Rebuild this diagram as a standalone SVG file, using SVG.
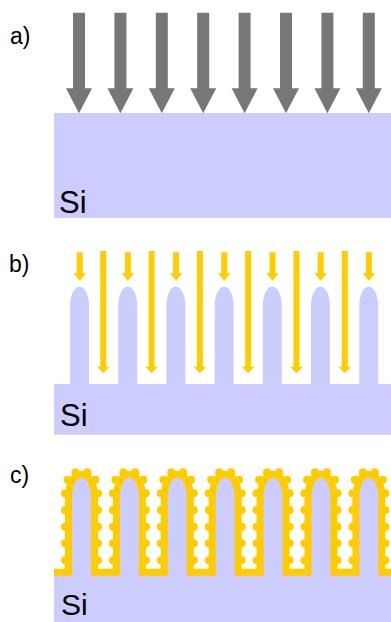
<svg xmlns="http://www.w3.org/2000/svg" xmlns:xlink="http://www.w3.org/1999/xlink" width="391" height="622" viewBox="0 0 391 622">
  <style>
    .si { fill: #CCCCFF; }
    .label { font-family: "Liberation Sans", Arial, sans-serif; font-size: 23px; fill: #000; }
    .mat { font-family: "Liberation Sans", Arial, sans-serif; font-size: 31px; fill: #000; }
    .gray { fill: #777777; }
    .gold { fill: #FFCC00; }
    .coat { fill: none; stroke: #FFCC00; stroke-width: 14; stroke-linejoin: miter; }
  </style>
  <defs>
    <!-- broad grey arrow, tip at (0,0) -->
    <polygon id="arrowGray" points="-6,-100.6 6,-100.6 6,-25 13,-25 0,0 -13,-25 -6,-25"/>
    <!-- short yellow arrow, tip at (0,0) -->
    <polygon id="arrowShort" points="-3,-28.4 3,-28.4 3,-7.4 6.3,-7.4 0,0 -6.3,-7.4 -3,-7.4"/>
    <!-- long yellow arrow, tip at (0,0) -->
    <polygon id="arrowLong" points="-3,-122.3 3,-122.3 3,-6.6 6.3,-6.6 0,0 -6.3,-6.6 -3,-6.6"/>
    <!-- etched pillar with rounded tip, base at (0,0) -->
    <path id="pillar" d="M -9.5,0 V -79.3 A 9.5 19 0 0 1 9.5,-79.3 V 0 Z"/>
    <!-- particles decorating a coated pillar, base at (0,0) -->
    <g id="bumps">
      <circle cx="-6" cy="-103.5" r="4"/>
      <circle cx="6" cy="-103.5" r="4"/>
      <circle cx="-14" cy="-96" r="4"/>
      <circle cx="14" cy="-96" r="4"/>
      <circle cx="-16.5" cy="-82.5" r="4"/>
      <circle cx="16.5" cy="-82.5" r="4"/>
      <circle cx="-16.5" cy="-65.7" r="4"/>
      <circle cx="16.5" cy="-65.7" r="4"/>
      <circle cx="-16.5" cy="-49" r="4"/>
      <circle cx="16.5" cy="-49" r="4"/>
      <circle cx="-16.5" cy="-32.5" r="4"/>
      <circle cx="16.5" cy="-32.5" r="4"/>
      <circle cx="-16.5" cy="-15.5" r="4"/>
      <circle cx="16.5" cy="-15.5" r="4"/>
    </g>
  </defs>

  <!-- a) flat silicon under uniform illumination -->
  <g id="panel-a">
    <text class="label" x="10" y="44">a)</text>
    <rect id="si-a" class="si" x="54" y="113" width="337" height="105"/>
    <g id="arrows-a" class="gray">
      <use xlink:href="#arrowGray" x="79" y="113.3"/>
      <use xlink:href="#arrowGray" x="120.4" y="113.3"/>
      <use xlink:href="#arrowGray" x="161.8" y="113.3"/>
      <use xlink:href="#arrowGray" x="203.2" y="113.3"/>
      <use xlink:href="#arrowGray" x="244.6" y="113.3"/>
      <use xlink:href="#arrowGray" x="286" y="113.3"/>
      <use xlink:href="#arrowGray" x="327.4" y="113.3"/>
      <use xlink:href="#arrowGray" x="368.8" y="113.3"/>
    </g>
    <text class="mat" x="59" y="213">Si</text>
  </g>

  <!-- b) etched pillars with deposition flux -->
  <g id="panel-b">
    <text class="label" x="9" y="272">b)</text>
    <g id="si-b" class="si">
      <rect x="54" y="384" width="337" height="50.7"/>
      <use xlink:href="#pillar" x="79.5" y="385"/>
      <use xlink:href="#pillar" x="127.7" y="385"/>
      <use xlink:href="#pillar" x="175.9" y="385"/>
      <use xlink:href="#pillar" x="224.1" y="385"/>
      <use xlink:href="#pillar" x="272.3" y="385"/>
      <use xlink:href="#pillar" x="320.5" y="385"/>
      <use xlink:href="#pillar" x="368.7" y="385"/>
    </g>
    <g id="arrows-b" class="gold">
      <use xlink:href="#arrowShort" x="79.7" y="280.7"/>
      <use xlink:href="#arrowShort" x="127.9" y="280.7"/>
      <use xlink:href="#arrowShort" x="176.1" y="280.7"/>
      <use xlink:href="#arrowShort" x="224.3" y="280.7"/>
      <use xlink:href="#arrowShort" x="272.5" y="280.7"/>
      <use xlink:href="#arrowShort" x="320.7" y="280.7"/>
      <use xlink:href="#arrowShort" x="368.9" y="280.7"/>
      <use xlink:href="#arrowLong" x="103.3" y="373.3"/>
      <use xlink:href="#arrowLong" x="151.6" y="373.3"/>
      <use xlink:href="#arrowLong" x="199.9" y="373.3"/>
      <use xlink:href="#arrowLong" x="248.2" y="373.3"/>
      <use xlink:href="#arrowLong" x="296.5" y="373.3"/>
      <use xlink:href="#arrowLong" x="344.8" y="373.3"/>
    </g>
    <text class="mat" x="60" y="426">Si</text>
  </g>

  <!-- c) pillars covered by a conformal gold layer with particles -->
  <g id="panel-c">
    <text class="label" x="10" y="483">c)</text>
    <path id="coat-c" class="coat" d="M 54,575.7
      H 72 V 496.7 A 9.5 19 0 0 1 91,496.7 V 575.7
      H 119.9 V 496.7 A 9.5 19 0 0 1 138.9,496.7 V 575.7
      H 167.8 V 496.7 A 9.5 19 0 0 1 186.8,496.7 V 575.7
      H 215.7 V 496.7 A 9.5 19 0 0 1 234.7,496.7 V 575.7
      H 263.6 V 496.7 A 9.5 19 0 0 1 282.6,496.7 V 575.7
      H 311.5 V 496.7 A 9.5 19 0 0 1 330.5,496.7 V 575.7
      H 359.4 V 496.7 A 9.5 19 0 0 1 378.4,496.7 V 575.7
      H 400"/>
    <g id="particles-c" class="gold">
      <use xlink:href="#bumps" x="81.5" y="575.7"/>
      <use xlink:href="#bumps" x="129.4" y="575.7"/>
      <use xlink:href="#bumps" x="177.3" y="575.7"/>
      <use xlink:href="#bumps" x="225.2" y="575.7"/>
      <use xlink:href="#bumps" x="273.1" y="575.7"/>
      <use xlink:href="#bumps" x="321" y="575.7"/>
      <use xlink:href="#bumps" x="368.9" y="575.7"/>
    </g>
    <g id="si-c" class="si">
      <rect x="54" y="575.7" width="337" height="46.3"/>
      <use xlink:href="#pillar" x="81.5" y="576"/>
      <use xlink:href="#pillar" x="129.4" y="576"/>
      <use xlink:href="#pillar" x="177.3" y="576"/>
      <use xlink:href="#pillar" x="225.2" y="576"/>
      <use xlink:href="#pillar" x="273.1" y="576"/>
      <use xlink:href="#pillar" x="321" y="576"/>
      <use xlink:href="#pillar" x="368.9" y="576"/>
    </g>
    <text class="mat" x="61" y="615" style="font-size:30px">Si</text>
  </g>
</svg>
